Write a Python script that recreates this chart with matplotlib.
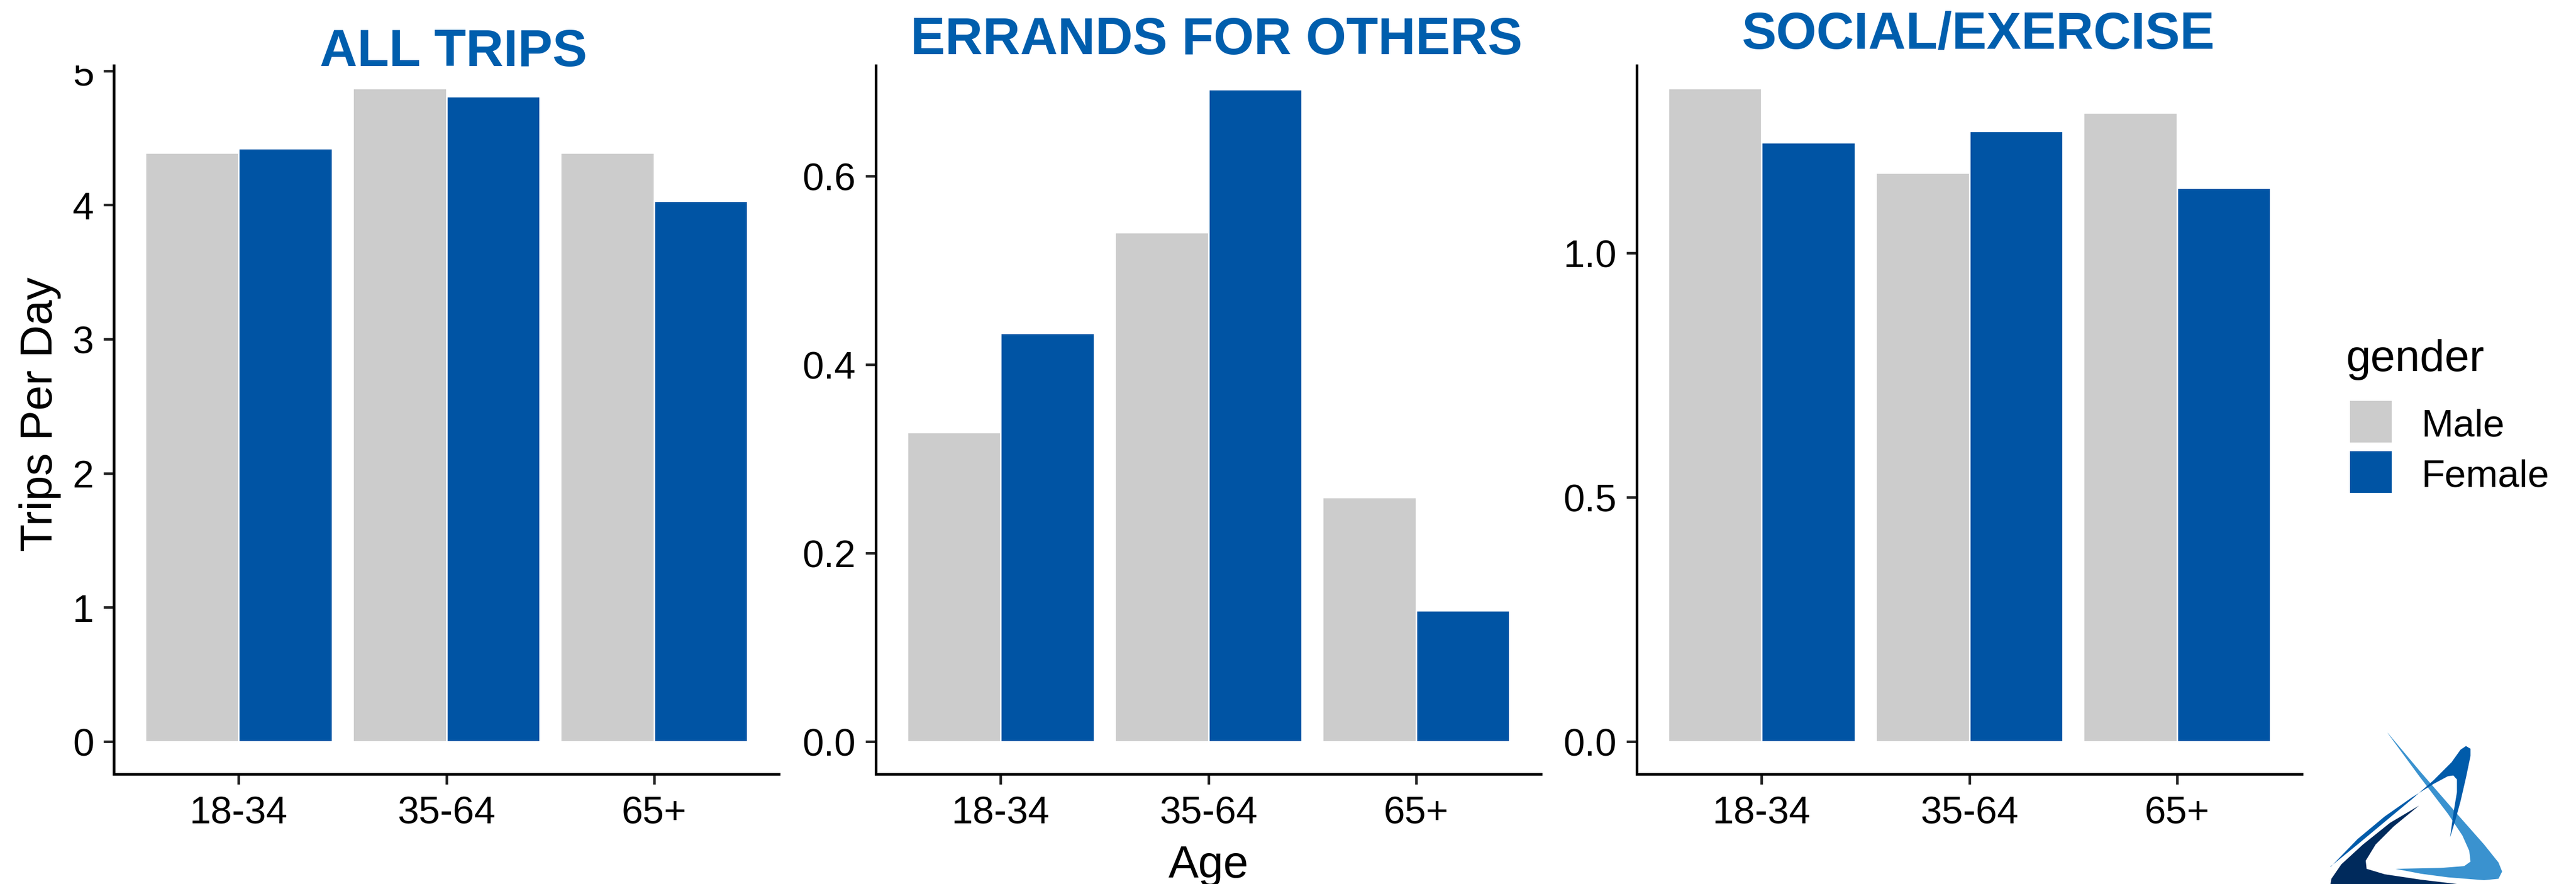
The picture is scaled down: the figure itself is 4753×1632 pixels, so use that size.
import matplotlib
matplotlib.use("Agg")
import matplotlib.pyplot as plt
from matplotlib.patches import Rectangle, Polygon
from matplotlib.transforms import Bbox, TransformedBbox
import numpy as np

plt.rcParams["font.family"] = ["Liberation Sans", "DejaVu Sans"]

# ---- data -------------------------------------------------------------
age_groups = ["18-34", "35-64", "65+"]
genders = ["Male", "Female"]

panel_titles = ["ALL TRIPS", "ERRANDS FOR OTHERS", "SOCIAL/EXERCISE"]

all_trips_male = [4.39, 4.87, 4.39]
all_trips_female = [4.42, 4.81, 4.03]

errands_male = [0.328, 0.540, 0.259]
errands_female = [0.433, 0.692, 0.139]

social_male = [1.336, 1.163, 1.287]
social_female = [1.226, 1.249, 1.132]

yticks_all = [0, 1, 2, 3, 4, 5]
yticks_errands = [0.0, 0.2, 0.4, 0.6]
yticks_social = [0.0, 0.5, 1.0]

# ---- style ------------------------------------------------------------
MALE_COLOR = "#CCCCCC"
FEMALE_COLOR = "#0054A4"
TITLE_COLOR = "#005EAD"

W, H = 4753, 1633
DPI = 100
fig = plt.figure(figsize=(W / DPI, H / DPI), dpi=DPI)
fig.patch.set_facecolor("white")


def fx(x):
    return x / W


def fy(y):
    return 1 - y / H


AX_TOP, AX_BOTTOM, AX_WIDTH = 122, 1430, 1227
lefts = [210, 1616, 3020]
title_pos = [(837, 122), (2245, 100), (3650, 90)]

# the plotting region is cut off at the top edge of the axes
plot_clip = TransformedBbox(Bbox([[0, 0], [1, fy(AX_TOP)]]), fig.transFigure)

panels = [
    (all_trips_male, all_trips_female, yticks_all, "{:.0f}", (-0.2435, 5.04)),
    (errands_male, errands_female, yticks_errands, "{:.1f}", (-0.0346, 0.717)),
    (social_male, social_female, yticks_social, "{:.1f}", (-0.0668, 1.383)),
]

TICK_FS = 51
LABEL_FS = 60
TITLE_FS = 69
bar_w = 0.45
x = np.arange(len(age_groups))

for i, (male, female, yt, fmt, ylim) in enumerate(panels):
    ax = fig.add_axes([fx(lefts[i]), fy(AX_BOTTOM), AX_WIDTH / W,
                       (AX_BOTTOM - AX_TOP) / H])
    ax.bar(x - bar_w / 2, male, width=bar_w, color=MALE_COLOR,
           edgecolor="white", linewidth=2.0, label=genders[0])
    ax.bar(x + bar_w / 2, female, width=bar_w, color=FEMALE_COLOR,
           edgecolor="white", linewidth=2.0, label=genders[1])
    ax.set_xlim(-0.6, 2.6)
    ax.set_ylim(*ylim)
    ax.set_xticks(x)
    ax.set_xticklabels(age_groups)
    ax.set_yticks(yt)
    ax.set_yticklabels([fmt.format(v) for v in yt])
    for side in ("top", "right"):
        ax.spines[side].set_visible(False)
    for side in ("left", "bottom"):
        ax.spines[side].set_linewidth(3.6)
        ax.spines[side].set_color("black")
    ax.tick_params(axis="both", which="major", length=13.5, width=3.4,
                   color="#222222", labelsize=TICK_FS, labelcolor="black")
    ax.tick_params(axis="x", pad=15)
    ax.tick_params(axis="y", pad=13)
    ax.set_facecolor("white")
    for lab in ax.get_yticklabels():
        lab.set_clip_on(True)
        lab.set_clip_box(plot_clip)

    tx, ty = title_pos[i]
    fig.text(fx(tx), fy(ty), panel_titles[i], ha="center", va="baseline",
             fontsize=TITLE_FS, fontweight="bold", color=TITLE_COLOR)

# axis titles
fig.text(fx(74), fy(765), "Trips Per Day", rotation=90, ha="center",
         va="center", fontsize=LABEL_FS, color="black")
fig.text(fx(2230), fy(1620), "Age", ha="center", va="baseline",
         fontsize=LABEL_FS, color="black")

# legend
fig.text(fx(4329), fy(685), "gender", ha="left", va="baseline",
         fontsize=59, color="black")
key_rows = [(740, MALE_COLOR), (833, FEMALE_COLOR)]
for (ytop, col), name in zip(key_rows, genders):
    fig.add_artist(Rectangle((fx(4335), fy(ytop + 79)), 79 / W, 79 / H,
                             transform=fig.transFigure, facecolor=col,
                             edgecolor="white", linewidth=1.5))
    fig.text(fx(4467), fy(ytop + 40), name, ha="left", va="center_baseline",
             fontsize=TICK_FS, color="black")

# corner logo mark
def logo_pts(pts):
    return [(fx(4250 + px / 3), fy(1330 + py / 3)) for px, py in pts]


light = [(465, 70), (650, 290), (850, 520), (1000, 690), (1080, 790),
         (1100, 840), (1080, 880), (1000, 888), (800, 872), (650, 852),
         (510, 825), (760, 820), (890, 810), (925, 785), (918, 725),
         (880, 640), (800, 520), (640, 310), (470, 78)]
mid = [(150, 812), (300, 690), (450, 565), (600, 440), (720, 335),
       (820, 235), (870, 165), (900, 145), (925, 160), (925, 200),
       (900, 320), (870, 450), (840, 560), (812, 650), (830, 520),
       (850, 400), (850, 330), (830, 308), (800, 312), (720, 355),
       (600, 430), (450, 535), (300, 660), (150, 815)]
dark = [(640, 475), (480, 570), (330, 690), (210, 800), (155, 880),
        (150, 909), (850, 909), (650, 885), (450, 855), (350, 825),
        (345, 780), (400, 690), (500, 590)]
for pts, col in [(light, "#3A92CF"), (mid, "#005BAA"), (dark, "#002A5C")]:
    fig.add_artist(Polygon(logo_pts(pts), closed=True, transform=fig.transFigure,
                           facecolor=col, edgecolor="none"))

fig.savefig("out.png", dpi=DPI, facecolor="white")
